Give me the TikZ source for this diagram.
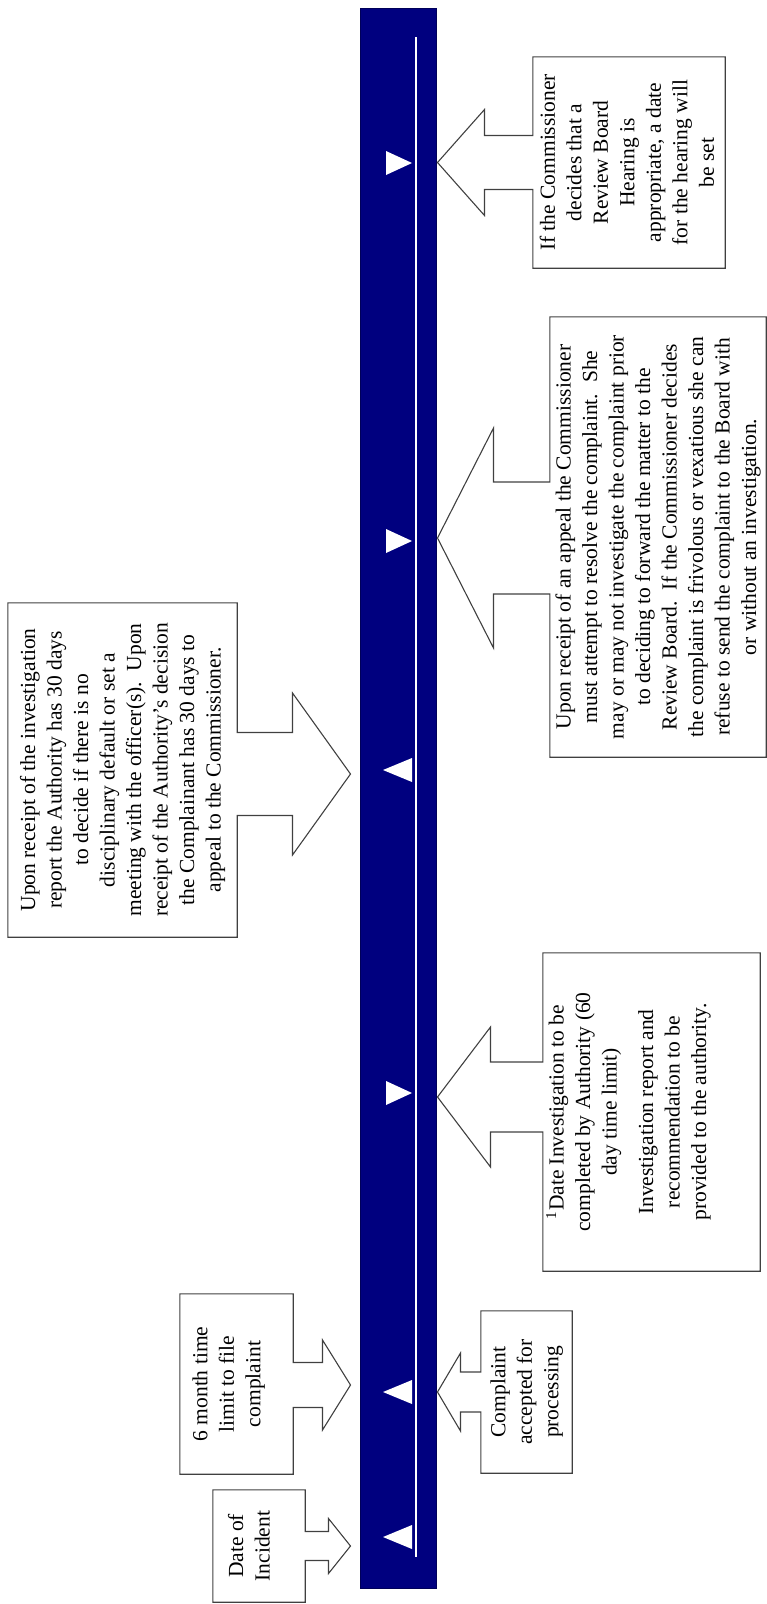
\documentclass[tikz,border=0pt]{standalone}
\usepackage{fontspec}
\setmainfont{Liberation Serif}
\usepackage{graphicx}
\usetikzlibrary{calc}
\definecolor{navybar}{HTML}{00007F}
\definecolor{outline}{HTML}{404040}

\begin{document}
\begin{tikzpicture}[x=1pt, y=-1pt,
  notebox/.style n args={2}{
    rectangle, minimum width=#1pt, minimum height=#2pt, inner sep=0pt,
    font=\fontsize{21.5}{26.5}\selectfont
  },
  callout/.style={draw=outline, line width=1.1pt, line join=miter},
  tri/.style={fill=white}
]

\useasboundingbox (0,0) rectangle (767,1604);

%% text set on its side, reading upwards
\def\vlines#1{\rotatebox{90}{\begin{tabular}{@{}c@{}}#1\end{tabular}}}

%% callout to the left of the bar: node, shaft half, head half, head length, shift
\def\callL#1#2#3#4#5{%
  \coordinate (base) at ($(#1.east)+(0,#5)$);
  \coordinate (tip) at ($(bar.west |- base)+(-9,0)$);
  \draw[callout] (#1.north east) -- (#1.north west) -- (#1.south west) -- (#1.south east)
    -- ($(base)+(0,#2)$) -- ($(tip)+(-#4,#2)$) -- ($(tip)+(-#4,#3)$) -- (tip)
    -- ($(tip)+(-#4,-#3)$) -- ($(tip)+(-#4,-#2)$) -- ($(base)+(0,-#2)$) -- cycle;
}
%% callout to the right of the bar
\def\callR#1#2#3#4#5{%
  \coordinate (base) at ($(#1.west)+(0,#5)$);
  \coordinate (tip) at ($(bar.east |- base)+(1,0)$);
  \draw[callout] (#1.north west) -- (#1.north east) -- (#1.south east) -- (#1.south west)
    -- ($(base)+(0,#2)$) -- ($(tip)+(#4,#2)$) -- ($(tip)+(#4,#3)$) -- (tip)
    -- ($(tip)+(#4,-#3)$) -- ($(tip)+(#4,-#2)$) -- ($(base)+(0,-#2)$) -- cycle;
}

%% === TIMELINE BAR ===
\node[rectangle, fill=navybar, draw=navybar!70!black, line width=1pt,
      minimum width=76pt, minimum height=1580pt] (bar) at (398,798) {};
\draw[white, line width=2.5pt] (416,37) -- (416,1557);

\foreach \ty in {1537,1392,770}
  \fill[tri] (383,\ty) -- (412,\ty-12) -- (412,\ty+12) -- cycle;
\foreach \ty in {1093,541,163}
  \fill[tri] (412,\ty) -- (386,\ty-12) -- (386,\ty+12) -- cycle;

%% === LEFT NOTES ===
\node[notebox={92}{112}] (incident) at (259,1546) {\vlines{Date of\\Incident\\[16pt]}};
\node[notebox={113}{180}] (filing) at (236.5,1384) {\vlines{6 month time\\limit to file\\complaint\\[16pt]}};
\node[notebox={229}{334}] (authority) at (122.5,770) {\vlines{Upon receipt of the investigation\\
  report the Authority has 30 days\\to decide if there is no\\disciplinary default or set a\\
  meeting with the officer(s).\ \ Upon\\receipt of the Authority's decision\\
  the Complainant has 30 days to\\appeal to the Commissioner.}};

%% === RIGHT NOTES ===
\node[notebox={91}{162}] (accepted) at (526.5,1392) {\vlines{Complaint\\accepted for\\processing}};
\node[notebox={217}{318}] (investigation) at (651.5,1112) {\vlines{\textsuperscript{1}Date Investigation to be\\
  completed by Authority (60\\day time limit)\\[10pt]Investigation report and\\
  recommendation to be\\provided to the authority.\\[44pt]}};
\node[notebox={216}{440}] (appeal) at (658,537) {\vlines{Upon receipt of an appeal the Commissioner\\
  must attempt to resolve the complaint.\ \ She\\may or may not investigate the complaint prior\\
  to deciding to forward the matter to the\\Review Board.\ \ If the Commissioner decides\\
  the complaint is frivolous or vexatious she can\\refuse to send the complaint to the Board with\\
  or without an investigation.}};
\node[notebox={192}{211}] (hearing) at (629,162.5) {\vlines{If the Commissioner\\decides that a\\
  Review Board\\Hearing is\\appropriate, a date\\for the hearing will\\be set}};

%% === CALLOUT ARROWS ===
\callL{incident}{14.5}{27.5}{22}{0}
\callL{filing}{22.5}{45}{28}{1}
\callL{authority}{41.5}{81}{58}{4}
\callR{accepted}{20}{39}{23}{0}
\callR{investigation}{35}{70}{53}{-15}
\callR{appeal}{56}{110}{56}{1}
\callR{hearing}{27}{53}{47}{0}

\end{tikzpicture}
\end{document}
